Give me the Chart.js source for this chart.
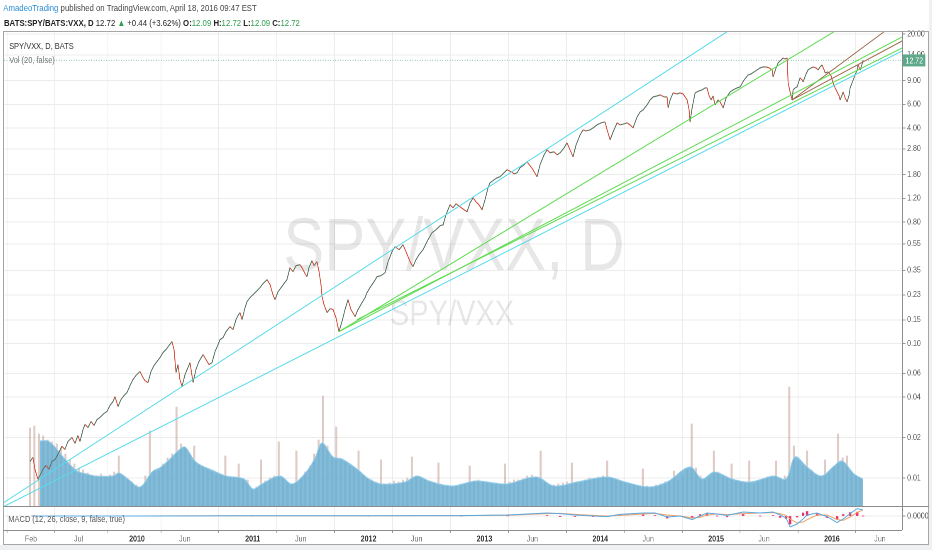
<!DOCTYPE html>
<html>
<head>
<meta charset="utf-8">
<script src="https://cdn.jsdelivr.net/npm/chart.js@4.4.1/dist/chart.umd.min.js"></script>
<style>
  html, body { margin:0; padding:0; width:932px; height:550px; overflow:hidden; background:#fff; }
  #stage { position:absolute; left:0; top:0; width:1123px; height:550px; transform-origin:0 0; font-family:"Liberation Sans", Arial, sans-serif; }
  #stage canvas { position:absolute; left:0; }
  .txt { position:absolute; white-space:nowrap; line-height:12px; z-index:3; }
  .ln { position:absolute; background:#a6a6a6; z-index:5; }
</style>
</head>
<body>
<div id="stage">
  <canvas id="main" width="1123" height="507" style="top:0;"></canvas>
  <canvas id="macd" width="1123" height="38" style="top:507px;"></canvas>
  <div class="txt" id="h1" style="left:4px;top:2px;font-size:9.4px;color:#444;"><span style="color:#2a8bd2;">AmadeoTrading</span> published on TradingView.com, April 18, 2016 09:47 EST</div>
  <div class="txt" id="h2" style="left:4.8px;top:17px;font-size:9.4px;color:#222;"><b>BATS:SPY/BATS:VXX, D</b> 12.72 <span style="color:#2e9e4f;">&#9650;</span> +0.44 (+3.62%) <b>O:</b><span style="color:#2e9e4f;">12.09</span> <b>H:</b><span style="color:#2e9e4f;">12.72</span> <b>L:</b><span style="color:#2e9e4f;">12.09</span> <b>C:</b><span style="color:#2e9e4f;">12.72</span></div>
  <div class="txt" style="left:11px;top:39.5px;font-size:9px;color:#333;">SPY/VXX, D, BATS</div>
  <div class="txt" style="left:11px;top:54px;font-size:9px;color:#777;">Vol (20, false)</div>
  <div class="txt" style="left:10px;top:513px;font-size:9px;color:#555;">MACD (12, 26, close, 9, false, true)</div>
</div>
<div class="ln" style="left:3px;top:31px;width:926px;height:1px;"></div>
<div class="ln" style="left:3px;top:31px;width:1px;height:514px;"></div>
<div class="ln" style="left:928px;top:31px;width:1px;height:514px;"></div>
<div class="ln" style="left:3px;top:544px;width:926px;height:1px;"></div>
<div class="ln" style="left:902px;top:31px;width:1px;height:499px;background:#8c8c8c;"></div>
<div class="ln" style="left:3px;top:506px;width:926px;height:1px;background:#8c8c8c;"></div>
<div class="ln" style="left:3px;top:530px;width:899px;height:1px;background:#8c8c8c;"></div>
<div style="position:absolute;left:0;top:545px;width:932px;height:5px;background:#eef0f2;"></div>
<div style="position:absolute;left:929px;top:0;width:3px;height:550px;background:#eef0f2;"></div>
<script>
// ---------------- data ----------------
const timeTickYears  = [2009.085, 2009.496, 2010, 2010.414, 2011, 2011.414, 2012, 2012.415, 2013, 2013.414, 2014, 2014.414, 2015, 2015.414, 2016, 2016.415];
const timeTickLabels = ['Feb', 'Jul', '2010', 'Jun', '2011', 'Jun', '2012', 'Jun', '2013', 'Jun', '2014', 'Jun', '2015', 'Jun', '2016', 'Jun'];
const priceTicks = [20, 14, 9, 6, 4, 2.8, 1.8, 1.2, 0.8, 0.55, 0.35, 0.23, 0.15, 0.10, 0.06, 0.04, 0.02, 0.01];

const priceDates = [
2009.076,2009.102,2009.119,2009.145,2009.171,2009.188,2009.214,2009.240,2009.266,2009.292,
2009.318,2009.352,2009.378,2009.404,2009.439,2009.465,2009.490,2009.508,2009.534,2009.551,
2009.577,2009.603,2009.629,2009.655,2009.680,2009.715,2009.741,2009.767,2009.793,2009.810,
2009.836,2009.862,2009.888,2009.914,2009.940,2009.965,2009.991,2010.026,2010.052,2010.069,
2010.095,2010.121,2010.147,2010.173,2010.199,2010.225,2010.250,2010.276,2010.302,2010.320,
2010.337,2010.354,2010.371,2010.389,2010.415,2010.440,2010.458,2010.475,2010.484,2010.509,
2010.535,2010.570,2010.596,2010.622,2010.648,2010.674,2010.700,2010.717,2010.743,2010.769,
2010.803,2010.829,2010.855,2010.872,2010.889,2010.907,2010.933,2010.950,2010.976,2011.002,
2011.028,2011.062,2011.088,2011.123,2011.149,2011.174,2011.192,2011.218,2011.244,2011.269,
2011.295,2011.321,2011.347,2011.373,2011.408,2011.434,2011.451,2011.468,2011.485,2011.511,
2011.529,2011.554,2011.572,2011.589,2011.598,2011.615,2011.641,2011.667,2011.693,2011.718,
2011.744,2011.770,2011.796,2011.822,2011.848,2011.883,2011.908,2011.943,2011.969,2011.986,
2012.012,2012.047,2012.073,2012.107,2012.142,2012.168,2012.202,2012.228,2012.263,2012.297,
2012.323,2012.358,2012.383,2012.409,2012.435,2012.470,2012.504,2012.547,2012.582,2012.617,
2012.643,2012.668,2012.703,2012.729,2012.755,2012.789,2012.824,2012.850,2012.876,2012.902,
2012.927,2012.953,2012.979,2013.005,2013.031,2013.048,2013.083,2013.109,2013.135,2013.169,
2013.195,2013.230,2013.256,2013.282,2013.307,2013.342,2013.368,2013.394,2013.420,2013.454,
2013.480,2013.515,2013.541,2013.566,2013.601,2013.627,2013.653,2013.687,2013.713,2013.739,
2013.765,2013.791,2013.826,2013.852,2013.877,2013.912,2013.938,2013.972,2014.007,2014.041,
2014.059,2014.085,2014.111,2014.145,2014.171,2014.206,2014.231,2014.257,2014.283,2014.318,
2014.344,2014.370,2014.404,2014.430,2014.456,2014.491,2014.516,2014.551,2014.577,2014.586,
2014.603,2014.629,2014.663,2014.689,2014.715,2014.750,2014.767,2014.775,2014.793,2014.819,
2014.853,2014.879,2014.905,2014.922,2014.940,2014.957,2014.974,2014.991,2015.017,2015.035,
2015.061,2015.087,2015.121,2015.147,2015.181,2015.207,2015.242,2015.276,2015.302,2015.328,
2015.354,2015.380,2015.406,2015.432,2015.458,2015.484,2015.492,2015.518,2015.535,2015.561,
2015.579,2015.596,2015.613,2015.622,2015.639,2015.656,2015.665,2015.682,2015.699,2015.725,
2015.743,2015.751,2015.777,2015.794,2015.820,2015.838,2015.864,2015.881,2015.898,2015.915,
2015.933,2015.941,2015.967,2015.993,2016.010,2016.028,2016.045,2016.062,2016.071,2016.088,
2016.097,2016.114,2016.131,2016.149,2016.157,2016.174,2016.200,2016.218,2016.226,2016.244,
2016.261,2016.269];

const priceClose = [
0.0133,0.0142,0.0116,0.0098,0.0108,0.0116,0.0124,0.0116,0.0133,0.0137,
0.0150,0.0172,0.0163,0.0187,0.0200,0.0181,0.0207,0.0187,0.0229,0.0250,
0.0237,0.0263,0.0246,0.0272,0.0282,0.0302,0.0312,0.0346,0.0370,0.0403,
0.0340,0.0383,0.0410,0.0432,0.0487,0.0539,0.0578,0.0619,0.0558,0.0530,
0.0512,0.0619,0.0685,0.0734,0.0786,0.0856,0.0901,0.0965,0.1033,0.0901,
0.0608,0.0697,0.0539,0.0479,0.0588,0.0662,0.0721,0.0578,0.0512,0.0640,
0.0734,0.0827,0.0759,0.0697,0.0721,0.0871,0.0981,0.1069,0.1106,0.1225,
0.1335,0.1268,0.1504,0.1611,0.1696,0.1504,0.1847,0.2047,0.2192,0.2307,
0.2429,0.2601,0.2785,0.2982,0.2738,0.2307,0.2118,0.2429,0.2601,0.2785,
0.2982,0.3661,0.3419,0.3788,0.3853,0.3538,0.3304,0.3139,0.3661,0.4126,
0.3788,0.4056,0.3419,0.2738,0.2230,0.1944,0.1696,0.1816,0.1785,0.1557,
0.1225,0.1454,0.1785,0.2118,0.1785,0.1584,0.1785,0.2012,0.2192,0.2388,
0.2601,0.2882,0.3139,0.3193,0.3361,0.4056,0.4812,0.5242,0.4980,0.5424,
0.4812,0.4056,0.3724,0.4198,0.4572,0.4980,0.5710,0.6660,0.7011,0.7507,
0.7636,0.9060,1.0748,1.0210,1.0934,1.0387,0.9868,0.9536,1.1119,1.2112,
1.1311,1.0748,0.9868,1.1705,1.4371,1.5655,1.6480,1.7052,1.7346,1.8578,
1.9557,1.8899,1.8260,1.8578,2.0236,2.1302,2.2422,2.0941,1.9557,1.7346,
2.1302,2.5274,2.7526,2.6148,2.6600,2.5274,2.6148,2.8482,3.1026,2.7526,
2.4423,2.9982,3.5576,3.8744,3.8087,3.8744,4.0089,4.2201,4.3672,4.4426,
3.8744,3.2661,3.7440,4.3672,4.2201,4.2930,4.3672,4.2201,4.0089,4.8391,
5.2711,5.4546,5.9414,6.4709,6.8111,6.9287,7.0483,6.8111,6.8111,5.6441,
6.4709,7.2932,7.1700,7.2932,7.1700,6.4709,5.4546,4.4426,5.6441,7.2932,
7.5472,7.6775,7.9441,7.9441,6.9287,6.4709,6.9287,5.9414,6.4709,6.2531,
5.6441,6.6955,7.4192,7.6775,7.9441,8.0812,9.1088,9.9217,10.093,10.444,
10.807,11.183,11.376,11.376,11.183,10.807,9.5879,11.183,12.181,12.823,
13.268,13.044,13.268,8.6529,7.4192,6.4709,7.6775,7.9441,8.0812,9.4251,
9.1088,8.8024,10.093,10.807,11.183,11.376,11.183,10.807,11.376,11.772,
10.807,10.266,10.444,9.7534,8.6529,7.9441,7.4192,6.9287,6.4709,7.0483,
7.4192,6.6955,6.2531,7.0483,7.9441,8.6529,9.9217,10.807,11.772,10.807,
11.975,12.72];
const lastClose = 12.72;

// volume: one value per two-week bin starting at volStartYear
const volStartYear = 2009.076;
const volStepYears = 0.03834;
const volume = [
78,80,72,70,66,64,62,58,52,46,
42,38,36,33,31,30,32,29,31,34,
50,30,27,24,21,19,30,75,36,35,
42,48,52,99,62,58,52,60,41,38,
36,34,32,31,50,28,27,42,27,26,
16,19,46,25,28,30,64,28,24,22,
55,28,34,40,52,66,110,60,50,79,
46,44,40,38,55,30,27,26,24,46,
22,23,25,24,26,28,49,30,27,26,
25,23,43,20,21,19,20,22,21,40,
25,26,24,23,22,23,21,42,24,26,
26,27,30,31,29,55,24,20,21,22,
23,24,43,24,23,26,28,27,29,30,
45,28,26,24,23,22,21,20,37,20,
19,21,22,24,25,35,26,30,36,82,
38,30,26,28,55,34,30,28,42,25,
24,23,45,22,25,27,29,30,45,27,
30,119,60,45,40,55,36,32,30,46,
33,40,72,48,50,35,30,28];

const volMADates = [2009.162,2009.231,2009.283,2009.378,2009.482,2009.568,2009.637,2009.793,2009.845,2009.922,
2010.026,2010.130,2010.207,2010.285,2010.363,2010.415,2010.509,2010.665,2010.769,2010.924,
2011.002,2011.079,2011.235,2011.339,2011.468,2011.537,2011.598,2011.693,2011.770,2011.900,
2012.003,2012.107,2012.314,2012.418,2012.522,2012.720,2012.927,2013.187,2013.446,2013.601,
2013.800,2014.059,2014.214,2014.421,2014.577,2014.775,2014.879,2014.983,2015.138,2015.294,
2015.501,2015.604,2015.682,2015.786,2015.907,2016.010,2016.088,2016.192,2016.269];
const volMA = [65,65,60,47,35,32,30,30,33,27,
19,34,39,47,56,59,44,35,30,27,
17,22,30,22,35,48,63,49,47,37,
27,22,24,30,25,20,25,22,29,20,
24,29,24,19,24,39,27,34,27,24,
30,27,49,39,30,39,45,32,27];

// trend lines drawn on the chart: [date, price] end points
const trendFrom  = [[2008.852,0.00658],[2008.843,0.00609],[2011.744,0.1225],[2011.744,0.1225],[2011.900,0.1504],[2015.656,6.4709],[2015.656,6.4709]];
const trendTo    = [[2015.104,21.05],[2016.606,14.95],[2016.028,21.05],[2016.606,19.0],[2016.606,15.74],[2016.459,21.05],[2016.606,17.74]];
const trendKind  = ['cyan','cyan','green','green','green','brown','brown'];

// MACD (12, 26, 9)
const macdDates  = [2009.10,2010.00,2011.00,2012.00,2012.80,2013.20,2013.541,2013.653,2013.782,2013.938,2014.059,2014.171,2014.370,2014.473,2014.577,2014.689,2014.793,2014.862,2014.922,2015.009,2015.095,2015.233,2015.380,2015.492,2015.553,2015.604,2015.639,2015.699,2015.751,2015.786,2015.872,2015.958,2016.045,2016.097,2016.157,2016.218,2016.269];
const macdLine   = [0.00,0.00,0.01,0.01,0.02,0.05,0.15,0.12,0.05,0.00,-0.03,0.08,0.15,0.15,-0.05,0.00,-0.18,0.00,0.15,0.10,0.03,0.20,0.15,0.20,0.05,-0.10,-0.55,-0.40,-0.15,0.05,0.15,-0.03,-0.33,-0.15,0.12,0.37,0.30];
const signalLine = [0.00,0.00,0.01,0.01,0.02,0.04,0.12,0.13,0.08,0.03,0.00,0.03,0.10,0.13,0.05,0.00,-0.10,-0.07,0.05,0.10,0.07,0.12,0.15,0.17,0.12,0.03,-0.15,-0.35,-0.30,-0.18,0.05,0.05,-0.18,-0.22,-0.05,0.18,0.30];
const macdHist   = [0,0,0,0,0,0.01,0.03,-0.01,-0.03,-0.03,-0.03,0.05,0.05,0.02,-0.10,0.00,-0.08,0.07,0.10,0.00,-0.04,0.08,0.00,0.03,-0.07,-0.13,-0.40,-0.05,0.15,0.23,0.10,-0.08,-0.15,0.07,0.17,0.19,0.00];

// ---------------- layout / style ----------------
const K = 0.83;                 // horizontal squeeze of the snapshot
const STAGE_W = 932 / K;
const X_MIN = 2008.852, X_MAX = 2016.606;
const Y_MIN = 0.00619, Y_MAX = 21.05;
const FONT = '"Liberation Sans", Arial, sans-serif';
const GRID = '#ececec';
const COLORS = { cyan:'#55dbe9', green:'#62dc55', brown:'#9c6a4c' };
const UP = '#5b7563', DOWN = '#d4513e';

document.getElementById('stage').style.transform = 'scaleX(' + K + ')';

const xTicks = s => { s.ticks = timeTickYears.map(v => ({ value: v })); };
const axisW = STAGE_W - 902 / K;

const watermark = {
  id: 'watermark',
  beforeDatasetsDraw(chart) {
    const c = chart.ctx;
    c.save();
    c.fillStyle = 'rgba(0,0,0,0.095)';
    c.textAlign = 'center';
    c.textBaseline = 'alphabetic';
    c.font = '74px ' + FONT;
    c.fillText('SPY/VXX, D', 454 / K, 270);
    c.font = '35px ' + FONT;
    c.fillText('SPY/VXX', 452 / K, 325);
    c.restore();
  }
};
const priceTag = {
  id: 'priceTag',
  afterDraw(chart) {
    const c = chart.ctx;
    const y = chart.scales.y.getPixelForValue(lastClose);
    const x = chart.chartArea.right;
    c.save();
    c.fillStyle = '#5fa98b';
    c.fillRect(x + 1, y - 6, 27, 12);
    c.fillStyle = '#fff';
    c.font = '8.5px ' + FONT;
    c.textBaseline = 'middle';
    c.textAlign = 'left';
    c.fillText(lastClose.toFixed(2), x + 4, y + 0.5);
    c.restore();
  }
};

const trendSets = trendFrom.map((a, i) => ({
  type: 'line',
  data: [{ x: a[0], y: a[1] }, { x: trendTo[i][0], y: trendTo[i][1] }],
  borderColor: COLORS[trendKind[i]], borderWidth: 1, pointRadius: 0, yAxisID: 'y', order: 1
}));

new Chart(document.getElementById('main'), {
  type: 'line',
  data: {
    datasets: [
      ...trendSets,
      { type: 'line', data: [{ x: X_MIN, y: lastClose }, { x: X_MAX, y: lastClose }], borderColor: '#7fbfa8', borderDash: [1, 2], borderWidth: 1, pointRadius: 0, yAxisID: 'y', order: 2 },
      { type: 'line', data: priceDates.map((d, i) => ({ x: d, y: priceClose[i] })), borderWidth: 1.1, pointRadius: 0, yAxisID: 'y', order: 3,
        segment: { borderColor: c => (c.p1.parsed.y >= c.p0.parsed.y ? UP : DOWN) } },
      { type: 'line', data: volMADates.map((d, i) => ({ x: d, y: volMA[i] })), yAxisID: 'yv', fill: 'origin', tension: 0.35,
        backgroundColor: 'rgba(98,172,210,0.80)', borderColor: '#92cdec', borderWidth: 1, pointRadius: 0, order: 8 },
      { type: 'bar', data: volume.map((v, i) => ({ x: volStartYear + i * volStepYears, y: v })), yAxisID: 'yv',
        backgroundColor: 'rgba(196,160,150,0.55)', barThickness: 1.8, order: 9 }
    ]
  },
  options: {
    responsive: false, animation: false, devicePixelRatio: 2,
    layout: { padding: { left: 4 / K, top: 31, right: 0, bottom: 1 } },
    plugins: { legend: { display: false }, tooltip: { enabled: false } },
    scales: {
      x: { type: 'linear', min: X_MIN, max: X_MAX, offset: false, afterBuildTicks: xTicks,
           ticks: { display: false }, grid: { color: GRID, drawTicks: false }, border: { display: false },
           afterFit: s => { s.height = 0; s.paddingLeft = 0; s.paddingRight = 0; } },
      y: { type: 'logarithmic', position: 'right', min: Y_MIN, max: Y_MAX,
           afterBuildTicks: s => { s.ticks = priceTicks.map(v => ({ value: v })); },
           ticks: { autoSkip: false, padding: 2, color: '#555', font: { family: FONT, size: 8.5 }, callback: v => Number(v).toFixed(2) },
           grid: { color: GRID, tickLength: 4, tickColor: '#999' }, border: { display: false },
           afterFit: s => { s.width = axisW; s.paddingTop = 0; s.paddingBottom = 0; } },
      yv: { type: 'linear', display: false, min: 0, max: 475 }
    }
  },
  plugins: [watermark, priceTag]
});

const isYear = i => (timeTickLabels[i] || '').length === 4;

new Chart(document.getElementById('macd'), {
  type: 'line',
  data: {
    datasets: [
      { type: 'line', data: macdDates.map((d, i) => ({ x: d, y: macdLine[i] })), borderColor: '#5aa8e0', borderWidth: 1, pointRadius: 0, order: 1 },
      { type: 'line', data: macdDates.map((d, i) => ({ x: d, y: signalLine[i] })), borderColor: '#eea36a', borderWidth: 1, pointRadius: 0, order: 2 },
      { type: 'bar', data: macdDates.map((d, i) => ({ x: d, y: macdHist[i] })), backgroundColor: '#ee2d6b', barThickness: 2.4, order: 3 }
    ]
  },
  options: {
    responsive: false, animation: false, devicePixelRatio: 2,
    layout: { padding: { left: 4 / K, top: 0, right: 0, bottom: 0 } },
    plugins: { legend: { display: false }, tooltip: { enabled: false } },
    scales: {
      x: { type: 'linear', min: X_MIN, max: X_MAX, offset: false, afterBuildTicks: xTicks,
           ticks: { autoSkip: false, maxRotation: 0, padding: 1, callback: (v, i) => timeTickLabels[i],
                    color: c => (isYear(c.index) ? '#333' : '#777'),
                    font: c => ({ family: FONT, size: 8.5, weight: isYear(c.index) ? 'bold' : 'normal' }) },
           grid: { color: GRID, tickLength: 3, tickColor: '#999' }, border: { display: false },
           afterFit: s => { s.height = 15; s.paddingLeft = 0; s.paddingRight = 0; } },
      y: { type: 'linear', position: 'right', min: -0.7, max: 0.45,
           afterBuildTicks: s => { s.ticks = [{ value: 0 }]; },
           ticks: { padding: 2, color: '#555', font: { family: FONT, size: 8.5 }, callback: () => '0.0000' },
           grid: { color: GRID, tickLength: 4, tickColor: '#999' }, border: { display: false },
           afterFit: s => { s.width = axisW; s.paddingTop = 0; s.paddingBottom = 0; } }
    }
  }
});
</script>
</body>
</html>
